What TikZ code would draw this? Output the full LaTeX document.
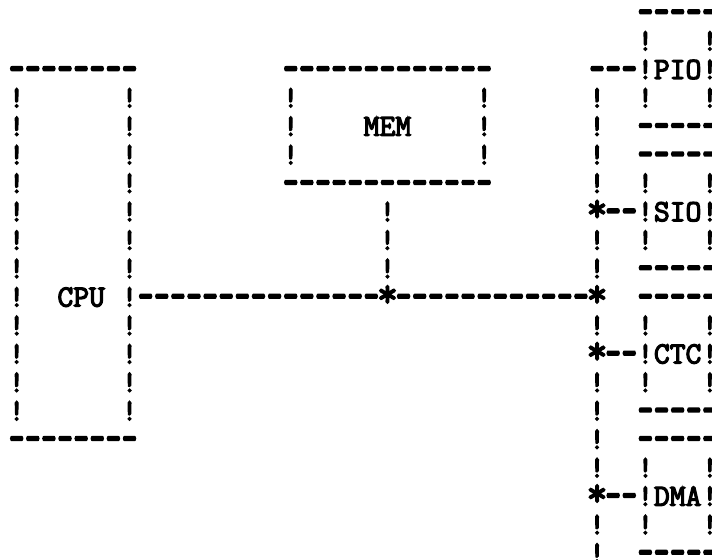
\documentclass[tikz,border=0pt]{standalone}
\usepackage{fontspec}
\usepackage{graphicx}
\newfontfamily\typewr{Latin Modern Mono}[FakeBold=4]
\newcommand\asciifont{\typewr\fontsize{30.7pt}{30.7pt}\selectfont}
\newcommand\dsh{\makebox[0.5em]{\raisebox{-0.17em}{\scalebox{0.98}[1.65]{-}}}}
\newcommand\junc{\makebox[0.5em]{\scalebox{1.3}{*}}}
\tikzset{ch/.style={font=\asciifont, inner sep=0pt, outer sep=0pt, anchor=base, text=black}}
\newcommand\dashrow[3]{\foreach \c in {#2,...,#3}{\node[ch] at (\c,#1) {\dsh};}}
\newcommand\bangcol[3]{\foreach \r in {#2,...,#3}{\node[ch] at (#1,\r) {!};}}
\begin{document}
\begin{tikzpicture}[x=16.12pt,y=-28.45pt]
\useasboundingbox[fill=white] (-1.036,-0.773) rectangle (43.13,18.875);
% CPU box
\dashrow{2}{0}{7}
\dashrow{15}{0}{7}
\bangcol{0}{3}{14}
\bangcol{7}{3}{14}
\node[ch] (cpu) at (4,10) {CPU};
% MEM box
\dashrow{2}{17}{29}
\dashrow{6}{17}{29}
\bangcol{17}{3}{5}
\bangcol{29}{3}{5}
\node[ch] (mem) at (23,4) {MEM};
% junctions
\node[ch] (j0) at (23,10) {\junc};
\node[ch] (j1) at (36,10) {\junc};
\node[ch] (jsio) at (36,7) {\junc};
\node[ch] (jctc) at (36,12) {\junc};
\node[ch] (jdma) at (36,17) {\junc};
% MEM stub
\bangcol{23}{7}{9}
% main horizontal bus
\dashrow{10}{8}{22}
\dashrow{10}{24}{35}
% vertical bus
\dashrow{2}{36}{38}
\bangcol{36}{3}{6}
\bangcol{36}{8}{9}
\bangcol{36}{11}{11}
\bangcol{36}{13}{16}
\bangcol{36}{18}{19}
% branches
\dashrow{7}{37}{38}
\dashrow{12}{37}{38}
\dashrow{17}{37}{38}
% peripheral boxes
\foreach \t in {0,5,10,15}{
  \pgfmathtruncatemacro\bt{\t+4}
  \pgfmathtruncatemacro\ra{\t+1}
  \pgfmathtruncatemacro\rb{\t+3}
  \dashrow{\t}{39}{43}
  \dashrow{\bt}{39}{43}
  \bangcol{39}{\ra}{\rb}
  \bangcol{43}{\ra}{\rb}
}
\node[ch] (pio) at (41,2) {PIO};
\node[ch] (sio) at (41,7) {SIO};
\node[ch] (ctc) at (41,12) {CTC};
\node[ch] (dma) at (41,17) {DMA};
\end{tikzpicture}
\end{document}
